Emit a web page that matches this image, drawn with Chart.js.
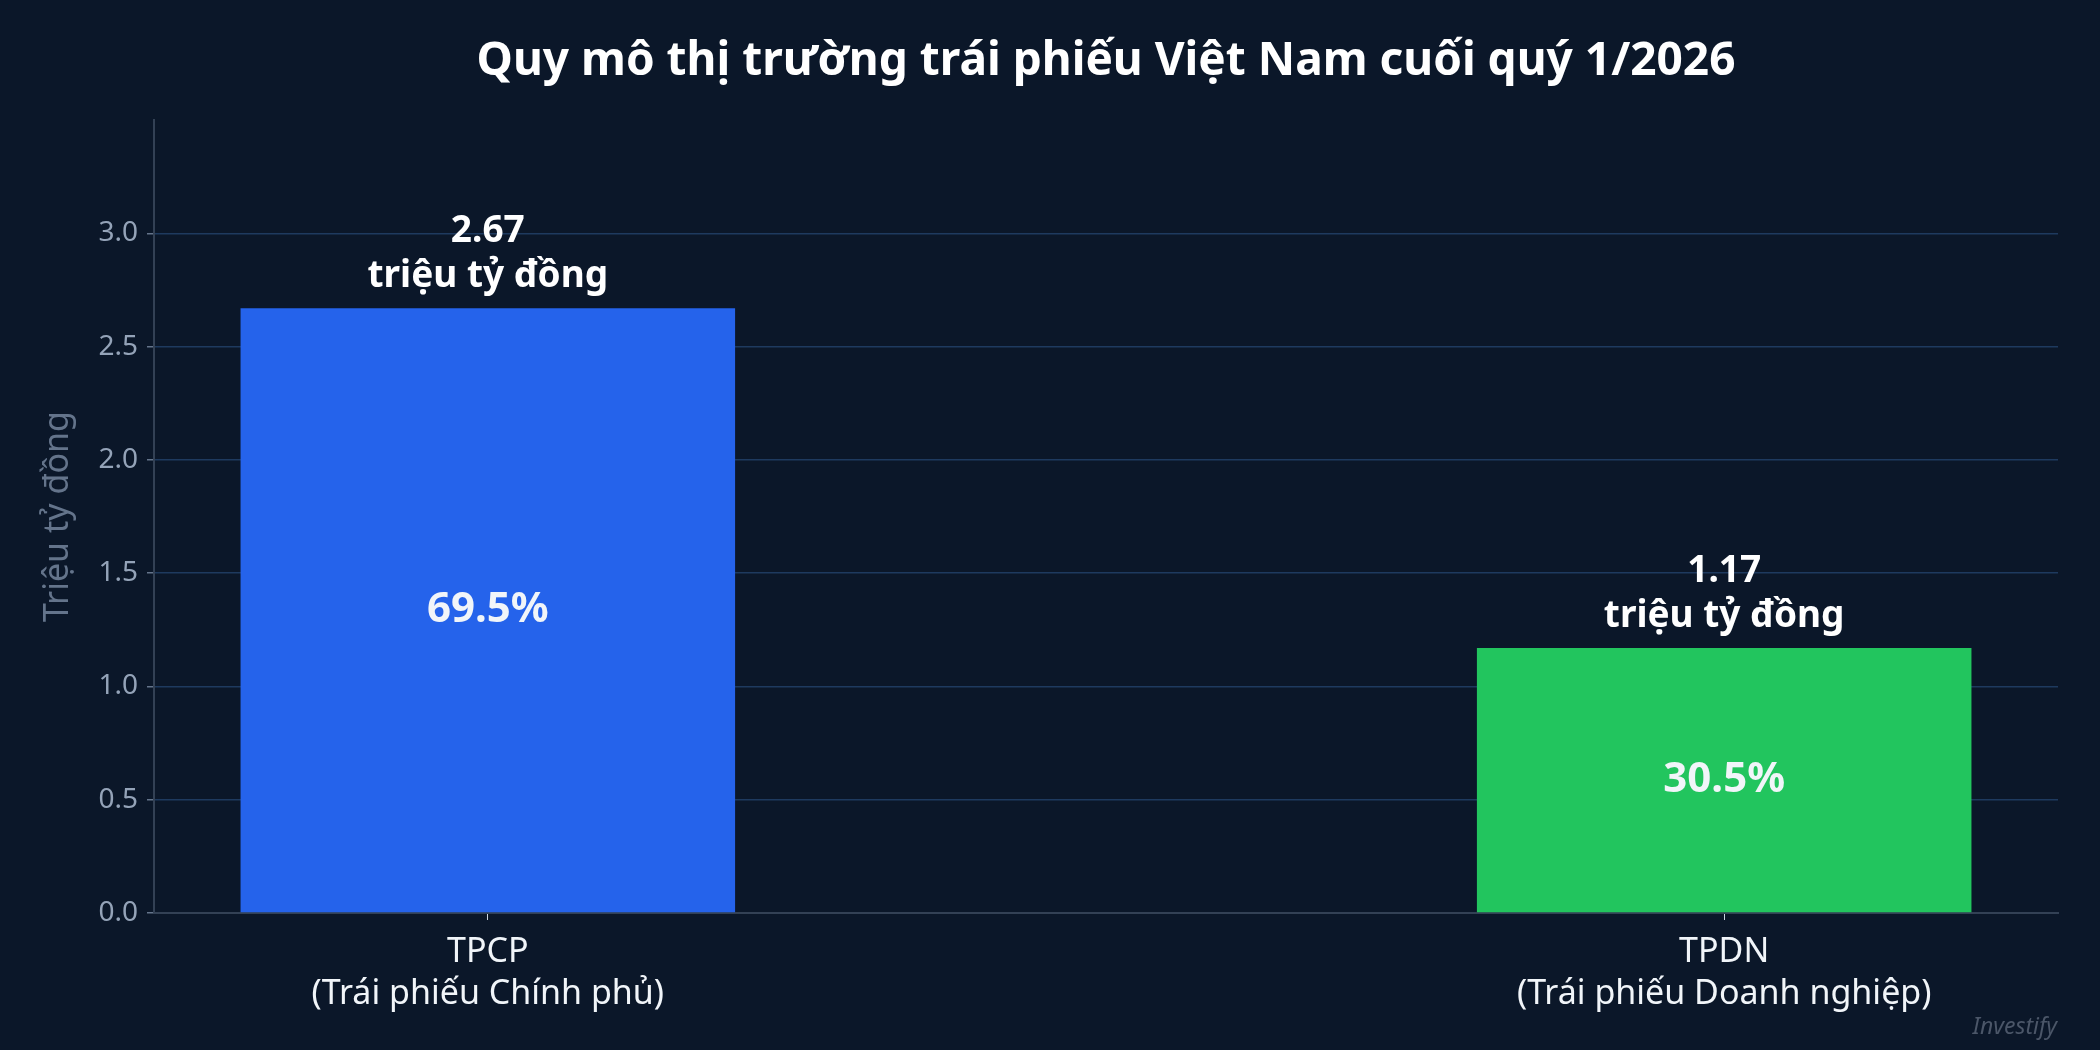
<!DOCTYPE html>
<html>
<head>
<meta charset="utf-8">
<script src="https://cdn.jsdelivr.net/npm/chart.js@4"></script>
<style>
  html, body { margin: 0; padding: 0; background: #0b1729; }
  #wrap { width: 2100px; height: 1050px; position: relative; }
</style>
</head>
<body>
<div id="wrap"><canvas id="myChart" width="2100" height="1050"></canvas></div>
<script>
// data
let categories = [['TPCP', '(Trái phiếu Chính phủ)'], ['TPDN', '(Trái phiếu Doanh nghiệp)']];
let values = [2.67, 1.17];
let shares = ['69.5%', '30.5%'];
let barColours = ['#2563eb', '#22c55e'];
let yTicks = [0, 0.5, 1.0, 1.5, 2.0, 2.5, 3.0];
let unitLabel = 'triệu tỷ đồng';

let font = "'Noto Sans', 'DejaVu Sans', sans-serif";

// labels on top of / inside each bar
let barLabels = {
    id: 'barLabels',
    afterDatasetsDraw(chart) {
        let ctx = chart.ctx;
        let meta = chart.getDatasetMeta(0);
        ctx.save();
        ctx.textAlign = 'center';
        ctx.textBaseline = 'alphabetic';
        meta.data.forEach((bar, i) => {
            ctx.fillStyle = '#ffffff';
            ctx.font = 'bold 37px ' + font;
            ctx.fillText(values[i].toFixed(2), bar.x, bar.y - 66);
            ctx.fillText(unitLabel, bar.x, bar.y - 21);
            ctx.font = 'bold 42px ' + font;
            ctx.textBaseline = 'middle';
            ctx.fillStyle = '#f1f5f9';
            ctx.fillText(shares[i], bar.x, (bar.y + bar.base) / 2);
            ctx.textBaseline = 'alphabetic';
        });
        // watermark
        ctx.font = 'italic 23px ' + font;
        ctx.fillStyle = '#4b5668';
        ctx.textAlign = 'right';
        ctx.fillText('Investify', 2057, 1034);
        ctx.restore();
    }
};

let bgPlugin = {
    id: 'bg',
    beforeDraw(chart) {
        let ctx = chart.ctx;
        ctx.save();
        ctx.fillStyle = '#0b1729';
        ctx.fillRect(0, 0, chart.width, chart.height);
        ctx.restore();
    }
};

let myChart = document.getElementById('myChart').getContext('2d');
let bondChart = new Chart(myChart, {
    type: 'bar',
    data: {
        datasets: [{
            data: values.map((v, i) => ({ x: i, y: v })),
            backgroundColor: barColours,
            borderWidth: 0,
            barPercentage: 0.4,
            categoryPercentage: 1
        }]
    },
    options: {
        responsive: false,
        animation: false,
        layout: { padding: { left: 0, right: 42, top: 0, bottom: 0 } },
        plugins: {
            legend: { display: false },
            tooltip: { enabled: false },
            title: {
                display: true,
                fullSize: false,
                text: 'Quy mô thị trường trái phiếu Việt Nam cuối quý 1/2026',
                color: '#ffffff',
                font: { family: font, size: 46, weight: 'bold' },
                padding: { top: 34, bottom: 31 }
            }
        },
        scales: {
            x: {
                type: 'linear',
                min: -0.27,
                max: 1.27,
                offset: false,
                afterBuildTicks(scale) {
                    scale.ticks = categories.map((c, i) => ({ value: i }));
                },
                afterFit(scale) { scale.height = 137; },
                ticks: {
                    color: '#f1f5f9',
                    font: { family: font, size: 34, lineHeight: 1.25 },
                    padding: 11,
                    callback: (v) => categories[v]
                },
                grid: { offset: false, drawOnChartArea: false, tickLength: 7, tickColor: '#cbd5e1', tickWidth: 1 },
                border: { color: '#334155', width: 2 }
            },
            y: {
                min: 0,
                max: 3.5,
                afterBuildTicks(scale) {
                    scale.ticks = yTicks.map(v => ({ value: v }));
                },
                afterFit(scale) { scale.width = 154; },
                ticks: {
                    color: '#94a3b8',
                    font: { family: font, size: 28 },
                    padding: 9,
                    callback: (v) => v.toFixed(1)
                },
                grid: { color: '#1e3a5f', lineWidth: 1.5, tickLength: 7, tickColor: '#64748b' },
                border: { color: '#334155', width: 2 },
                title: {
                    display: true,
                    text: 'Triệu tỷ đồng',
                    color: '#64748b',
                    font: { family: font, size: 34 },
                    padding: { top: 38, bottom: 0 }
                }
            }
        }
    },
    plugins: [bgPlugin, barLabels]
});
</script>
</body>
</html>
